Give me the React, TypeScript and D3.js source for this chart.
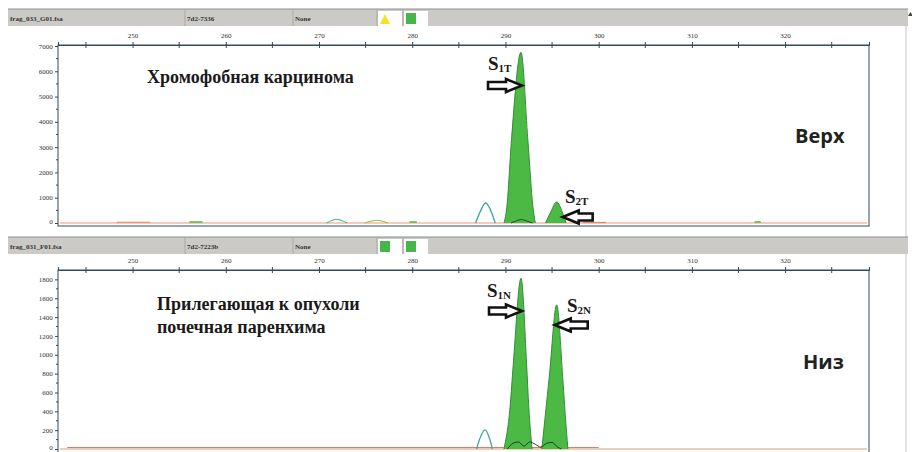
import React, { useEffect, useRef } from "react";
import * as d3 from "d3";

// fragment size ticks (bp) and RFU ticks
const sizeTicks = [250, 260, 270, 280, 290, 300, 310, 320];
const sizeMinor = [245, 255, 265, 275, 285, 295, 305, 315, 325];
const topRfuTicks = [0, 1000, 2000, 3000, 4000, 5000, 6000, 7000];
const topRfuMinor = [500, 1500, 2500, 3500, 4500, 5500, 6500];
const lowRfuTicks = [0, 200, 400, 600, 800, 1000, 1200, 1400, 1600, 1800];
const lowRfuMinor = [100, 300, 500, 700, 900, 1100, 1300, 1500, 1700];

const headerFiles = ["frag_033_G01.fsa", "frag_031_F01.fsa"];
const headerSamples = ["7d2-7336", "7d2-7223b"];
const headerPanels = ["None", "None"];

// top sample (tumour): [size, rfu]
const topS1: [number, number][] = [[289.85, 0], [290.15, 630], [290.65, 3300], [291.67, 6750], [292.4, 3300], [292.95, 630], [293.2, 0]];
const topS2: [number, number][] = [[294.3, 0], [294.85, 430], [295.5, 830], [296.1, 430], [296.5, 0]];
const topTeal: [number, number][] = [[286.8, 0], [287.27, 430], [287.88, 790], [288.5, 430], [288.9, 0]];
const topDark: [number, number][] = [[290.6, 0], [291.2, 90], [291.7, 140], [292.2, 90], [292.9, 0]];
const topBumpA: [number, number][] = [[270.8, 0], [271.9, 150], [273.0, 0]];
const topBumpB: [number, number][] = [[274.9, 0], [276.2, 110], [277.4, 0]];
const topDashes: [number, number][][] = [[[256.1, 40], [257.5, 40]], [[279.7, 40], [280.5, 40]], [[316.7, 40], [317.4, 40]]];
const topRed: [number, number][][] = [[[248.3, 30], [251.9, 30]], [[298.3, 20], [300.8, 20]]];

// bottom sample (adjacent parenchyma)
const lowS1: [number, number][] = [[289.84, 0], [290.5, 450], [290.84, 900], [291.67, 1812], [292.27, 900], [292.5, 450], [292.85, 0]];
const lowS2: [number, number][] = [[293.9, 0], [294.3, 380], [294.7, 765], [295.5, 1530], [296.14, 765], [296.4, 380], [296.7, 0]];
const lowTeal: [number, number][] = [[286.9, 0], [287.25, 110], [287.8, 204], [288.3, 110], [288.6, 0]];
const lowDark: [number, number][] = [[290.2, 0], [290.8, 60], [291.4, 75], [292.0, 30], [292.6, 75], [293.2, 50], [293.8, 20], [294.4, 60], [295.0, 70], [295.6, 20], [296.0, 0]];
const lowRed: [number, number][][] = [[[243, 15], [300, 15]]];

const GREEN = "#4cb944";
const GREEN_EDGE = "#2f8f35";
const TEAL = "#3aa597";
const AXIS = "#34495a";
const SERIF = "'Liberation Serif', 'Times New Roman', 'DejaVu Serif', serif";

const App = () => {
  const ref = useRef<SVGSVGElement>(null);

  useEffect(() => {
    const svg = d3.select(ref.current);
    svg.selectAll("*").remove();

    const x = d3.scaleLinear().domain([242, 329]).range([58, 869]);

    const header = (y0: number, i: number, marks: string[]) => {
      const g = svg.append("g");
      g.append("rect").attr("x", 8).attr("y", y0).attr("width", 900).attr("height", 17)
        .attr("fill", "#cbcac6");
      g.append("line").attr("x1", 8).attr("x2", 908).attr("y1", y0).attr("y2", y0)
        .attr("stroke", "#8e8e8e").attr("stroke-width", 1);
      [185, 293, 377, 403].forEach(d => {
        g.append("line").attr("x1", d).attr("x2", d).attr("y1", y0 + 1).attr("y2", y0 + 17)
          .attr("stroke", "#a9a9a6");
      });
      [[10, headerFiles[i]], [187, headerSamples[i]], [295, headerPanels[i]]].forEach(([tx, t]) => {
        g.append("text").attr("x", tx as number).attr("y", y0 + 11.5).text(t as string)
          .attr("font-family", SERIF).attr("font-weight", "bold")
          .attr("font-size", 7).attr("fill", "#333");
      });
      [378, 404].forEach((bx, k) => {
        g.append("rect").attr("x", bx).attr("y", y0 + 2).attr("width", 24).attr("height", 15).attr("fill", "#fff");
        if (marks[k] === "triangle") {
          g.append("path").attr("d", `M${bx + 2},${y0 + 15} L${bx + 7},${y0 + 5} L${bx + 12},${y0 + 15} Z`)
            .attr("fill", "#f2e32a");
        } else {
          g.append("rect").attr("x", bx + 2).attr("y", y0 + 4).attr("width", 10).attr("height", 11)
            .attr("fill", "#45b649");
        }
      });
    };

    const panel = (y: d3.ScaleLinear<number, number>, top: number, bottom: number,
      ticks: number[], minor: number[]) => {
      const g = svg.append("g");
      g.append("rect").attr("x", 58).attr("y", top).attr("width", 811).attr("height", bottom - top)
        .attr("fill", "#fff").attr("stroke", AXIS).attr("stroke-width", 1);
      const xa = g.append("g").attr("transform", `translate(0,${top})`)
        .call(d3.axisTop(x).tickValues(sizeTicks).tickSize(3).tickFormat(d3.format("d")));
      xa.select(".domain").attr("stroke", AXIS);
      xa.selectAll(".tick line").attr("stroke", AXIS).attr("y2", -3).attr("y1", 3);
      xa.selectAll(".tick text").attr("font-family", SERIF).attr("font-size", 7)
        .attr("fill", "#333").attr("dy", "-0.2em");
      sizeMinor.forEach(d => {
        g.append("line").attr("x1", x(d)).attr("x2", x(d)).attr("y1", top - 3).attr("y2", top + 3)
          .attr("stroke", AXIS);
      });
      const ya = g.append("g").attr("transform", "translate(58,0)")
        .call(d3.axisLeft(y).tickValues(ticks).tickSize(3).tickFormat(d3.format("d")));
      ya.select(".domain").remove();
      ya.selectAll(".tick line").attr("stroke", AXIS);
      ya.selectAll(".tick text").attr("font-family", SERIF).attr("font-size", 7)
        .attr("fill", "#333").attr("dx", "0.1em").attr("dy", (d: any) => (d === 0 ? "0em" : "0.3em"));
      minor.forEach(d => {
        g.append("line").attr("x1", 56).attr("x2", 58).attr("y1", y(d)).attr("y2", y(d)).attr("stroke", AXIS);
      });
      return g;
    };

    const draw = (g: any, y: d3.ScaleLinear<number, number>, pts: [number, number][],
      fill: string | null, stroke: string, w = 1) => {
      const area = d3.area<[number, number]>().x(d => x(d[0])).y0(y(0)).y1(d => y(d[1]))
        .curve(d3.curveMonotoneX);
      const line = d3.line<[number, number]>().x(d => x(d[0])).y(d => y(d[1])).curve(d3.curveMonotoneX);
      if (fill) g.append("path").attr("d", area(pts)).attr("fill", fill);
      g.append("path").attr("d", line(pts)).attr("fill", "none").attr("stroke", stroke).attr("stroke-width", w);
    };

    const arrow = (tipX: number, cy: number, dir: number, len: number) => {
      const hl = 16, sh = 3.5, hh = 6.5;
      const tail = tipX - dir * len;
      const neck = tipX - dir * hl;
      const d = `M${tail},${cy - sh} L${neck},${cy - sh} L${neck},${cy - hh} L${tipX},${cy} ` +
        `L${neck},${cy + hh} L${neck},${cy + sh} L${tail},${cy + sh} Z`;
      svg.append("path").attr("d", d).attr("fill", "#fff").attr("stroke", "#111")
        .attr("stroke-width", 2.6).attr("stroke-linejoin", "miter");
    };

    const label = (tx: number, ty: number, sub: string) => {
      const t = svg.append("text").attr("x", tx).attr("y", ty)
        .attr("font-family", SERIF).attr("font-weight", "bold").attr("fill", "#1a1a1a");
      t.append("tspan").attr("font-size", 19).text("S");
      t.append("tspan").attr("font-size", 11).attr("dy", 2).text(sub);
    };

    svg.append("rect").attr("width", 912).attr("height", 452).attr("fill", "#fff");
    svg.append("line").attr("x1", 906).attr("x2", 906).attr("y1", 26).attr("y2", 452)
      .attr("stroke", "#d8d8d6").attr("stroke-width", 1.5);
    svg.append("path").attr("d", "M908,16 L910.5,12 L913,16 Z").attr("fill", "#444");

    // ---------- top panel
    header(9, 0, ["triangle", "square"]);
    const yTop = d3.scaleLinear().domain([0, 7000]).range([223, 46]);
    const gT = panel(yTop, 45, 226, topRfuTicks, topRfuMinor);
    topRed.forEach(p => draw(gT, yTop, p, null, "#e0705a", 1.2));
    draw(gT, yTop, [[242.2, 0], [328.8, 0]], null, "#e89a7a", 1.2);
    topDashes.forEach(p => draw(gT, yTop, p, null, GREEN, 1.5));
    draw(gT, yTop, topBumpA, null, "#4cb48a", 1.1);
    draw(gT, yTop, topBumpB, null, "#9bbb4a", 1.1);
    draw(gT, yTop, topTeal, null, TEAL, 1.3);
    draw(gT, yTop, topS1, GREEN, GREEN_EDGE, 1);
    draw(gT, yTop, topS2, GREEN, GREEN_EDGE, 1);
    draw(gT, yTop, topDark, null, "#1f4a3a", 1);

    // ---------- bottom panel
    header(237, 1, ["square", "square"]);
    const yLow = d3.scaleLinear().domain([0, 1900]).range([449, 270]);
    const gL = panel(yLow, 270, 456, lowRfuTicks, lowRfuMinor);
    lowRed.forEach(p => draw(gL, yLow, p, null, "#e0705a", 1));
    draw(gL, yLow, [[242.2, 0], [328.8, 0]], null, "#d9a070", 1.2);
    draw(gL, yLow, lowTeal, null, TEAL, 1.3);
    draw(gL, yLow, lowS1, GREEN, GREEN_EDGE, 1);
    draw(gL, yLow, lowS2, GREEN, GREEN_EDGE, 1);
    draw(gL, yLow, lowDark, null, "#1f3a30", 1);

    // ---------- annotations
    arrow(x(291.67) + 1, 85.5, 1, 34);
    label(488, 70, "1T");
    arrow(x(296.46) - 3, 217, -1, 30);
    label(565, 203, "2T");
    arrow(x(291.67) + 1, 311, 1, 33);
    label(487, 297, "1N");
    arrow(x(295.5) - 2, 325, -1, 33);
    label(567, 312, "2N");

    const serif = (tx: number, ty: number, t: string) =>
      svg.append("text").attr("x", tx).attr("y", ty).text(t).attr("font-family", SERIF)
        .attr("font-weight", "bold").attr("font-size", 18).attr("fill", "#1a1a1a");
    serif(147, 83, "Хромофобная карцинома");
    serif(157, 310, "Прилегающая к опухоли");
    serif(157, 333, "почечная паренхима");

    const sans = (tx: number, ty: number, t: string) =>
      svg.append("text").attr("x", tx).attr("y", ty).text(t).attr("font-family", "'Open Sans', sans-serif")
        .attr("font-weight", "bold").attr("font-size", 20).attr("fill", "#222");
    sans(795, 143, "Верх");
    sans(803, 369, "Низ");
  }, []);

  return (
    <svg ref={ref} width={912} height={452}
      style={{ position: "absolute", left: 0, top: 0, display: "block" }} />
  );
};

export default App;
